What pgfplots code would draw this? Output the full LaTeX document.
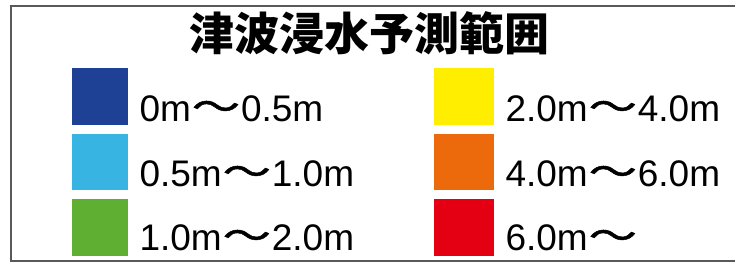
\documentclass[border=0pt]{standalone}
\usepackage{fontspec}
\usepackage{graphicx}
\usepackage{pgfplots}
\pgfplotsset{compat=1.18}
\setmainfont{Liberation Sans}
\newfontfamily\cjk{Noto Sans CJK JP}
\newfontfamily\cjkw{Noto Sans CJK JP}[FakeBold=1.2]
\definecolor{c1}{RGB}{30,65,150}
\definecolor{c2}{RGB}{55,180,225}
\definecolor{c3}{RGB}{95,175,50}
\definecolor{c4}{RGB}{255,238,0}
\definecolor{c5}{RGB}{236,106,12}
\definecolor{c6}{RGB}{228,0,18}
\definecolor{txt}{RGB}{25,25,25}
\newcommand\wave{\hspace{1bp}\raisebox{1bp}{\scalebox{1.3}[1]{\cjkw 〜}}\hspace{1bp}}
\begin{document}
\begin{tikzpicture}
\begin{axis}[
  scale only axis, width=735bp, height=264bp,
  xmin=0, xmax=735, ymin=0, ymax=264, y dir=reverse,
  hide axis, clip=true,
  every node/.style={text=txt, inner sep=0pt},
]
\addplot[draw=none, forget plot] coordinates {(0,0) (735,264)};
\addplot[draw=black!65, line width=2bp] coordinates {(735,6) (10.5,6) (10.5,261) (735,261)};
% left column
\addplot[fill=c1, draw=none] coordinates {(72,68) (128,68) (128,125) (72,125)} -- cycle;
\addplot[fill=c2, draw=none] coordinates {(72,134) (128,134) (128,190) (72,190)} -- cycle;
\addplot[fill=c3, draw=none] coordinates {(72,199) (128,199) (128,256) (72,256)} -- cycle;
% right column
\addplot[fill=c4, draw=none] coordinates {(434,68) (494,68) (494,125) (434,125)} -- cycle;
\addplot[fill=c5, draw=none] coordinates {(434,134) (494,134) (494,190) (434,190)} -- cycle;
\addplot[fill=c6, draw=none] coordinates {(434,199) (494,199) (494,256) (434,256)} -- cycle;
\node[anchor=center, font=\cjk\bfseries\fontsize{45bp}{50bp}\selectfont] at (axis cs:369,33) {津波浸水予測範囲};
\tikzset{lab/.style={anchor=base west, font=\fontsize{37bp}{40bp}\selectfont}}
\node[lab] at (axis cs:136,121) {0m\wave0.5m};
\node[lab] at (axis cs:136,186) {0.5m\wave1.0m};
\node[lab] at (axis cs:136,250) {1.0m\wave2.0m};
\node[lab] at (axis cs:502,121) {2.0m\wave4.0m};
\node[lab] at (axis cs:502,186) {4.0m\wave6.0m};
\node[lab] at (axis cs:502,250) {6.0m\wave};
\end{axis}
\end{tikzpicture}
\end{document}
